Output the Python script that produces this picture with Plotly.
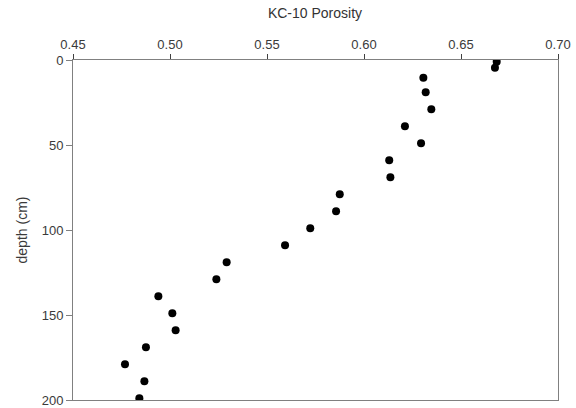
import plotly.graph_objects as go

porosity = [0.6684, 0.6675, 0.6306, 0.6318, 0.6347, 0.6211, 0.6294, 0.6130, 0.6136,
            0.5875, 0.5856, 0.5723, 0.5593, 0.5292, 0.5239, 0.4940, 0.5012, 0.5029,
            0.4876, 0.4768, 0.4868, 0.4842]
depth = [1, 4.5, 10.5, 19, 29, 39, 49, 59, 69, 79, 89, 99, 109, 119, 129, 139, 149,
         159, 169, 179, 189, 199]
x_ticks = [0.45, 0.50, 0.55, 0.60, 0.65, 0.70]
y_ticks = [0, 50, 100, 150, 200]

fig = go.Figure()
fig.add_trace(go.Scatter(x=porosity, y=depth, mode="markers",
                         marker=dict(color="black", size=8), showlegend=False))

ff = "Liberation Sans, Arial, sans-serif"
fig.update_layout(
    width=576, height=408,
    margin=dict(l=73, r=18, t=60, b=8, autoexpand=False),
    paper_bgcolor="white", plot_bgcolor="white",
    font=dict(family=ff, size=13, color="#3a3a3a"),
    title=dict(text="KC-10 Porosity", x=315 / 576, xanchor="center", y=1 - 13 / 408,
               yanchor="middle", font=dict(family=ff, size=14, color="#333333")),
    xaxis=dict(side="top", range=[0.45, 0.70], tickvals=x_ticks,
               ticktext=[f"{v:.2f}" for v in x_ticks], automargin=False,
               showgrid=False, zeroline=False, showline=True, linecolor="#808080",
               linewidth=1, mirror=True, ticks="outside", ticklen=5, tickcolor="#404040"),
    yaxis=dict(range=[200, 0], tickvals=y_ticks, showgrid=False, zeroline=False,
               showline=True, linecolor="#808080", linewidth=1, mirror=True,
               ticks="outside", ticklen=6, tickcolor="#808080", automargin=False,
               title=dict(text="depth (cm)", standoff=10, font=dict(size=14))),
)

fig.write_html("out.html", config={"displayModeBar": False},
               post_script="document.body.style.margin='0';")
